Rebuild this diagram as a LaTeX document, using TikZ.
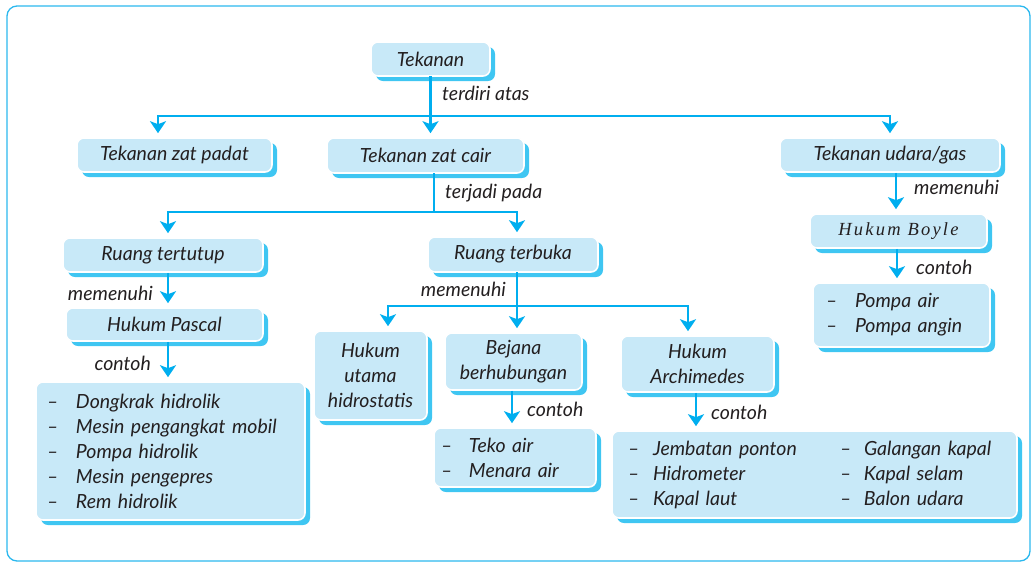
\documentclass[tikz,border=0pt]{standalone}
\usepackage{fontspec}
\setmainfont{Lato}
\newfontfamily\boylefont{Liberation Serif}[LetterSpace=12]
\usetikzlibrary{arrows.meta,shadows,calc}
\definecolor{boxfill}{HTML}{C8E9F8}
\definecolor{shadc}{HTML}{3FC6F2}
\definecolor{linec}{HTML}{00AEEF}
\definecolor{framec}{HTML}{2BB8EE}
\definecolor{txtc}{HTML}{231F20}
\begin{document}
\begin{tikzpicture}[x=1pt,y=-1pt,
  font=\fontsize{19.5}{25}\selectfont\itshape, text=txtc,
  bx/.style={draw=white, line width=1.6pt, fill=boxfill, rounded corners=7pt,
    inner sep=0pt, align=center,
    copy shadow={shadow xshift=5pt, shadow yshift=-5pt, fill=shadc, draw=none}},
  lst/.style={bx, align=left},
  ln/.style={draw=linec, line width=2.6pt, line cap=rect},
  arr/.style={draw=linec, line width=2.6pt, -{Stealth[length=12pt,width=16pt,inset=3pt]}, shorten >=4pt},
  lbl/.style={inner sep=0pt}]
\useasboundingbox (0,0) rectangle (1031,563);
\draw[framec, line width=1.3pt, rounded corners=10pt] (7,6) rectangle (1030,561);

% boxes
\node[bx, minimum width=119pt, minimum height=34pt] (top) at (430.5,59) {Tekanan};
\node[bx, minimum width=195pt, minimum height=34pt] (padat) at (174.5,155) {Tekanan zat padat};
\node[bx, minimum width=197pt, minimum height=35pt] (cair) at (425.5,155.5) {Tekanan zat cair};
\node[bx, minimum width=220pt, minimum height=34pt] (udara) at (890,155) {Tekanan udara/gas};
\node[bx, minimum width=200pt, minimum height=34pt] (tertutup) at (163,255) {Ruang tertutup};
\node[bx, minimum width=170pt, minimum height=35pt] (terbuka) at (513,254.5) {Ruang terbuka};
\node[bx, minimum width=197pt, minimum height=33pt] (pascal) at (164.5,324.5) {Hukum Pascal};
\node[lst, minimum height=138pt, text width=247pt, inner xsep=11pt] (pascalex) at (170.5,451)
  {\makebox[29pt][l]{--}Dongkrak hidrolik\\
   \makebox[29pt][l]{--}Mesin pengangkat mobil\\
   \makebox[29pt][l]{--}Pompa hidrolik\\
   \makebox[29pt][l]{--}Mesin pengepres\\
   \makebox[29pt][l]{--}Rem hidrolik};
\node[bx, minimum width=113pt, minimum height=89pt] (hidro) at (370.5,375.5) {Hukum\\utama\\hidrostatis};
\node[bx, minimum width=137pt, minimum height=57pt] (bejana) at (513.5,361.5) {Bejana\\berhubungan};
\node[bx, minimum width=153pt, minimum height=56pt] (archi) at (697.5,364) {Hukum\\Archimedes};
\node[lst, minimum height=59pt, text width=148pt, inner xsep=7pt] (tekoex) at (515,457.5)
  {\makebox[28pt][l]{--}Teko air\\
   \makebox[28pt][l]{--}Menara air};
\node[lst, minimum height=87pt, text width=373pt, inner xsep=16pt] (archiex) at (814.5,474.5)
  {\makebox[25pt][l]{--}\makebox[187pt][l]{Jembatan ponton}\makebox[24pt][l]{--}Galangan kapal\\
   \makebox[25pt][l]{--}\makebox[187pt][l]{Hidrometer}\makebox[24pt][l]{--}Kapal selam\\
   \makebox[25pt][l]{--}\makebox[187pt][l]{Kapal laut}\makebox[24pt][l]{--}Balon udara};
\node[bx, minimum width=177pt, minimum height=34pt] (boyle) at (898.5,231) {\boylefont\fontsize{18.5}{22}\selectfont Hukum Boyle};
\node[lst, minimum height=64pt, text width=151pt, inner xsep=13pt] (boyleex) at (901.5,315)
  {\makebox[29pt][l]{--}Pompa air\\
   \makebox[29pt][l]{--}Pompa angin};

% level 1
\coordinate (ya) at (0,116);
\coordinate (a1) at (158,116);
\coordinate (a3) at (890,116);
\draw[ln] (top.south) -- (top.south |- ya);
\draw[ln] (a1) -- (a3);
\draw[arr] (a1) -- (a1 |- padat.north);
\draw[arr] (top.south |- ya) -- (top.south |- cair.north);
\draw[arr] (a3) -- (a3 |- udara.north);
\node[lbl, anchor=west] (l1) at (442,93) {terdiri atas};

% level 2 (zat cair)
\coordinate (b0) at (434,212);
\coordinate (b1) at (168,212);
\coordinate (b2) at (517,212);
\draw[ln] (cair.south -| b0) -- (b0);
\draw[ln] (b1) -- (b2);
\draw[arr] (b1) -- (b1 |- tertutup.north);
\draw[arr] (b2) -- (b2 |- terbuka.north);
\node[lbl, anchor=west] (l2) at (445,193) {terjadi pada};

% ruang tertutup
\coordinate (c1) at (168,0);
\draw[arr] (tertutup.south -| c1) -- (pascal.north -| c1);
\draw[arr] (pascal.south -| c1) -- (pascalex.north -| c1);
\node[lbl, anchor=east] (l3) at (153,293) {memenuhi};
\node[lbl, anchor=east] (l4) at (151,363) {contoh};

% ruang terbuka
\coordinate (d0) at (517,306);
\coordinate (d1) at (388,306);
\coordinate (d3) at (688,306);
\draw[ln] (terbuka.south -| d0) -- (d0);
\draw[ln] (d1) -- (d3);
\draw[arr] (d1) -- (d1 |- hidro.north);
\draw[arr] (d0) -- (d0 |- bejana.north);
\draw[arr] (d3) -- (d3 |- archi.north);
\node[lbl, anchor=east] (l5) at (506,289) {memenuhi};

\coordinate (e1) at (512,0);
\draw[arr] (bejana.south -| e1) -- (tekoex.north -| e1);
\node[lbl, anchor=west] (l6) at (527,409) {contoh};
\coordinate (e2) at (696,0);
\draw[arr] (archi.south -| e2) -- (archiex.north -| e2);
\node[lbl, anchor=west] (l7) at (711,412) {contoh};

% udara
\coordinate (f1) at (896,0);
\draw[arr] (udara.south -| f1) -- (boyle.north -| f1);
\node[lbl, anchor=west] (l8) at (914,187) {memenuhi};
\coordinate (f2) at (897,0);
\draw[arr] (boyle.south -| f2) -- (boyleex.north -| f2);
\node[lbl, anchor=west] (l9) at (916,267) {contoh};
\end{tikzpicture}
\end{document}
